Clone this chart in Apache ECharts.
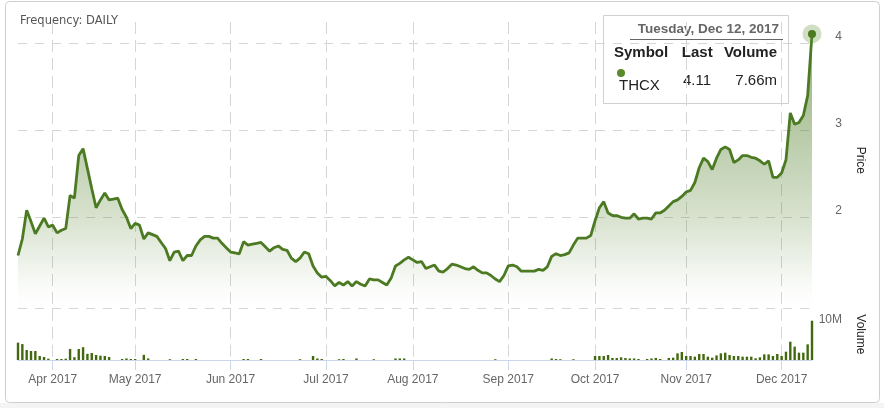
<!DOCTYPE html>
<html><head><meta charset="utf-8">
<script src="https://cdn.jsdelivr.net/npm/echarts@6/dist/echarts.min.js"></script>
<style>html,body{margin:0;padding:0;background:#fff;}#c{width:884px;height:408px;}</style>
</head><body><div id="c"></div>
<script>
// ---- data ----
const symbolName = 'THCX';
const frequency = 'DAILY';
const firstDay = '2017-03-22';
const lastDay = '2017-12-12';
const holidays = ['2017-04-14','2017-05-22','2017-07-03','2017-08-07','2017-09-04','2017-10-09'];
const priceTicks = [2, 3, 4];
const volumeTicks = [10];
const price = [
  1.56,1.75,2.08,1.95,1.81,1.90,1.99,1.89,1.91,1.82,
  1.85,1.87,2.25,2.22,2.71,2.79,2.56,2.33,2.11,2.20,
  2.28,2.20,2.21,2.22,2.09,2.00,1.87,1.93,1.91,1.75,
  1.82,1.80,1.78,1.71,1.64,1.50,1.60,1.61,1.50,1.56,
  1.56,1.67,1.74,1.78,1.78,1.76,1.76,1.70,1.65,1.60,
  1.59,1.58,1.72,1.68,1.69,1.70,1.71,1.66,1.61,1.65,
  1.67,1.63,1.62,1.53,1.49,1.53,1.60,1.58,1.44,1.36,
  1.31,1.32,1.27,1.21,1.25,1.22,1.26,1.21,1.26,1.23,
  1.21,1.29,1.28,1.28,1.25,1.22,1.30,1.44,1.47,1.51,
  1.54,1.51,1.48,1.49,1.41,1.43,1.45,1.38,1.37,1.41,
  1.46,1.45,1.43,1.41,1.40,1.43,1.39,1.36,1.36,1.33,
  1.29,1.26,1.33,1.44,1.45,1.43,1.38,1.38,1.38,1.38,
  1.40,1.39,1.43,1.55,1.58,1.56,1.57,1.59,1.68,1.76,
  1.76,1.76,1.79,1.96,2.11,2.18,2.05,2.02,2.02,2.00,
  1.99,1.99,2.04,1.98,1.99,1.99,1.98,2.05,2.05,2.08,
  2.13,2.18,2.20,2.24,2.29,2.31,2.40,2.57,2.68,2.64,
  2.55,2.68,2.78,2.81,2.78,2.63,2.66,2.71,2.71,2.69,
  2.68,2.65,2.61,2.65,2.46,2.46,2.51,2.66,3.20,3.07,
  3.09,3.17,3.40,4.11
];
// volume in millions
const volumeM = [
  3.38,3.10,1.95,1.75,1.75,0.78,0.58,0.26,0,0.2,
  0.2,0.25,2.14,0.55,2.14,2.5,1.2,1.36,0.97,0.84,
  0.78,0.58,0,0,0.2,0.3,0.2,0.2,0,1.0,
  0.3,0,0,0,0,0.15,0,0,0.2,0.2,
  0,0.2,0,0,0,0,0,0,0,0,
  0,0,0.2,0.2,0,0,0.2,0,0,0,
  0,0,0,0,0,0.15,0,0,0.78,0.3,
  0.2,0,0,0,0.15,0.2,0,0,0.3,0,
  0,0,0.15,0,0,0,0,0.3,0.3,0.3,
  0,0,0,0,0,0,0,0,0,0,
  0,0,0,0,0,0,0,0,0,0,
  0.15,0,0,0,0,0,0,0,0,0,
  0,0,0,0.3,0.2,0.15,0,0,0.15,0,
  0,0,0,0.78,0.78,0.78,0.97,0.39,0.39,0.52,
  0.39,0.3,0.3,0.2,0,0.2,0.3,0.4,0.2,0,
  0.4,0.45,1.3,1.56,0.78,0.78,0.65,1.17,1.17,0.65,
  0.45,0.9,1.3,1.43,0.97,0.78,0.78,0.65,0.65,0.65,
  0.33,0.52,1.1,1.1,0.78,1.17,0.78,1.62,3.57,2.6,
  1.43,1.43,3.05,7.66
];

// ---- trading-day categories ----
function tradingDays() {
  const out = [];
  let t = Date.parse(firstDay + 'T00:00:00Z');
  const end = Date.parse(lastDay + 'T00:00:00Z');
  while (t <= end) {
    const d = new Date(t);
    const wd = d.getUTCDay();
    const s = d.toISOString().slice(0, 10);
    if (wd !== 0 && wd !== 6 && holidays.indexOf(s) < 0) out.push(s);
    t += 86400000;
  }
  return out;
}
const dates = tradingDays();
const MONTHS = ['Jan','Feb','Mar','Apr','May','Jun','Jul','Aug','Sep','Oct','Nov','Dec'];
const DAYS = ['Sunday','Monday','Tuesday','Wednesday','Thursday','Friday','Saturday'];
function isMonthStart(i) {
  return i > 0 && dates[i].slice(5, 7) !== dates[i - 1].slice(5, 7);
}
function monthLabel(v) {
  return MONTHS[parseInt(v.slice(5, 7), 10) - 1] + ' ' + v.slice(0, 4);
}
const lastIdx = price.length - 1;
const lastDate = new Date(dates[lastIdx] + 'T00:00:00Z');
const tipTitle = DAYS[lastDate.getUTCDay()] + ', ' + MONTHS[lastDate.getUTCMonth()] + ' ' + lastDate.getUTCDate() + ', ' + lastDate.getUTCFullYear();

const GRID = '#d6d6d6';
const LINE = '#4b7a22';
const FONT = 'Liberation Sans, Arial, sans-serif';

const chart = echarts.init(document.getElementById('c'), null, {renderer: 'canvas'});
chart.setOption({
  animation: false,
  backgroundColor: '#fff',
  title: {
    text: 'Frequency: ' + frequency, left: 15, top: 10,
    textStyle: {fontFamily: 'DejaVu Sans', fontSize: 11.5, fontWeight: 'normal', color: '#555'}
  },
  grid: [
    {left: 18, right: 72, top: 22, height: 286.7},
    {left: 18, right: 72, top: 308.7, height: 51.3}
  ],
  xAxis: [
    {
      type: 'category', gridIndex: 0, data: dates, boundaryGap: false,
      axisLine: {show: false}, axisTick: {show: false}, axisLabel: {show: false},
      splitLine: {show: true, interval: (i) => isMonthStart(i), lineStyle: {color: GRID, type: [12, 6], width: 1}}
    },
    {
      type: 'category', gridIndex: 1, data: dates, boundaryGap: false,
      axisLine: {show: true, lineStyle: {color: '#ccd6eb', width: 1}},
      axisTick: {show: true, interval: (i) => isMonthStart(i), length: 10, lineStyle: {color: '#ccd6eb'}},
      axisLabel: {interval: (i) => isMonthStart(i), formatter: monthLabel, color: '#666', fontSize: 12, fontFamily: FONT, margin: 14},
      splitLine: {show: true, interval: (i) => isMonthStart(i), lineStyle: {color: GRID, type: [12, 6], width: 1}}
    }
  ],
  yAxis: [
    {
      type: 'value', gridIndex: 0, position: 'right', min: 0.948, max: 4.247,
      name: 'Price', nameLocation: 'middle', nameRotate: -90, nameGap: 42,
      nameTextStyle: {color: '#222', fontSize: 12, fontFamily: FONT, padding: [0, 10, 0, 0]},
      axisLine: {show: false},
      axisTick: {show: false, customValues: priceTicks},
      axisLabel: {customValues: priceTicks, align: 'right', margin: 30, verticalAlign: 'bottom', lineHeight: 14, color: '#666', fontSize: 12, fontFamily: FONT},
      splitLine: {show: true, lineStyle: {color: GRID, type: [9, 8], width: 1}}
    },
    {
      type: 'value', gridIndex: 1, position: 'right', min: 0, max: 10,
      name: 'Volume', nameLocation: 'middle', nameRotate: -90, nameGap: 42,
      nameTextStyle: {color: '#222', fontSize: 12, fontFamily: FONT},
      axisLine: {show: false},
      axisTick: {show: false, customValues: volumeTicks},
      axisLabel: {customValues: volumeTicks, formatter: (v) => v + 'M', align: 'right', margin: 30, verticalAlign: 'top', padding: [5, 0, 0, 0], lineHeight: 12, color: '#666', fontSize: 12, fontFamily: FONT},
      splitLine: {show: true, lineStyle: {color: GRID, type: [9, 8], width: 1}}
    }
  ],
  series: [
    {
      name: 'Price', type: 'line', xAxisIndex: 0, yAxisIndex: 0, data: price,
      showSymbol: false, symbol: 'none',
      lineStyle: {color: LINE, width: 2.8},
      areaStyle: {
        color: new echarts.graphic.LinearGradient(0, 0, 0, 1, [
          {offset: 0, color: 'rgba(75,122,34,0.85)'},
          {offset: 0.67, color: 'rgba(75,122,34,0.31)'},
          {offset: 0.93, color: 'rgba(75,122,34,0.03)'},
          {offset: 1, color: 'rgba(75,122,34,0)'}
        ])
      },
      markPoint: {
        silent: true, symbol: 'circle', label: {show: false},
        data: [
          {coord: [dates[lastIdx], price[lastIdx]], symbolSize: 19, itemStyle: {color: 'rgba(100,145,60,0.3)'}},
          {coord: [dates[lastIdx], price[lastIdx]], symbolSize: 8, itemStyle: {color: LINE}}
        ]
      },
      z: 3
    },
    {
      name: 'Volume', type: 'bar', xAxisIndex: 1, yAxisIndex: 1, data: volumeM,
      barWidth: 2.4, clip: false,
      itemStyle: {color: '#42690f'}
    }
  ],
  graphic: [
    {type: 'rect', z: -10, silent: true, shape: {x: 0, y: 403, width: 884, height: 5}, style: {fill: '#f4f4f4'}},
    {type: 'rect', z: 0, silent: true, shape: {x: 5.5, y: 1.5, width: 874, height: 401, r: 4}, style: {fill: 'none', stroke: '#cfcfcf', lineWidth: 1}},
    {
      type: 'group', z: 100, silent: true,
      children: [
        {type: 'rect', shape: {x: 603.5, y: 15.5, width: 185, height: 88}, style: {fill: '#fff', stroke: '#d0d0d0', lineWidth: 1}},
        {type: 'text', x: 779, y: 29, style: {text: tipTitle, align: 'right', verticalAlign: 'middle', font: 'bold 13.5px ' + FONT, fill: '#666'}},
        {type: 'line', shape: {x1: 630, y1: 39.5, x2: 783, y2: 39.5}, style: {stroke: '#666', lineWidth: 1}},
        {type: 'text', x: 614, y: 53, style: {text: 'Symbol', align: 'left', verticalAlign: 'middle', font: 'bold 15px ' + FONT, fill: '#222'}},
        {type: 'text', x: 712.7, y: 53, style: {text: 'Last', align: 'right', verticalAlign: 'middle', font: 'bold 15px ' + FONT, fill: '#222'}},
        {type: 'text', x: 777, y: 53, style: {text: 'Volume', align: 'right', verticalAlign: 'middle', font: 'bold 15px ' + FONT, fill: '#222'}},
        {type: 'circle', shape: {cx: 621, cy: 73, r: 4}, style: {fill: '#5a8a2c'}},
        {type: 'text', x: 619, y: 86, style: {text: symbolName, align: 'left', verticalAlign: 'middle', font: '15px ' + FONT, fill: '#222'}},
        {type: 'text', x: 711, y: 80.7, style: {text: price[lastIdx].toFixed(2), align: 'right', verticalAlign: 'middle', font: '15px ' + FONT, fill: '#222'}},
        {type: 'text', x: 777, y: 80.7, style: {text: volumeM[lastIdx].toFixed(2) + 'm', align: 'right', verticalAlign: 'middle', font: '15px ' + FONT, fill: '#222'}}
      ]
    }
  ]
});
</script>
</body></html>
